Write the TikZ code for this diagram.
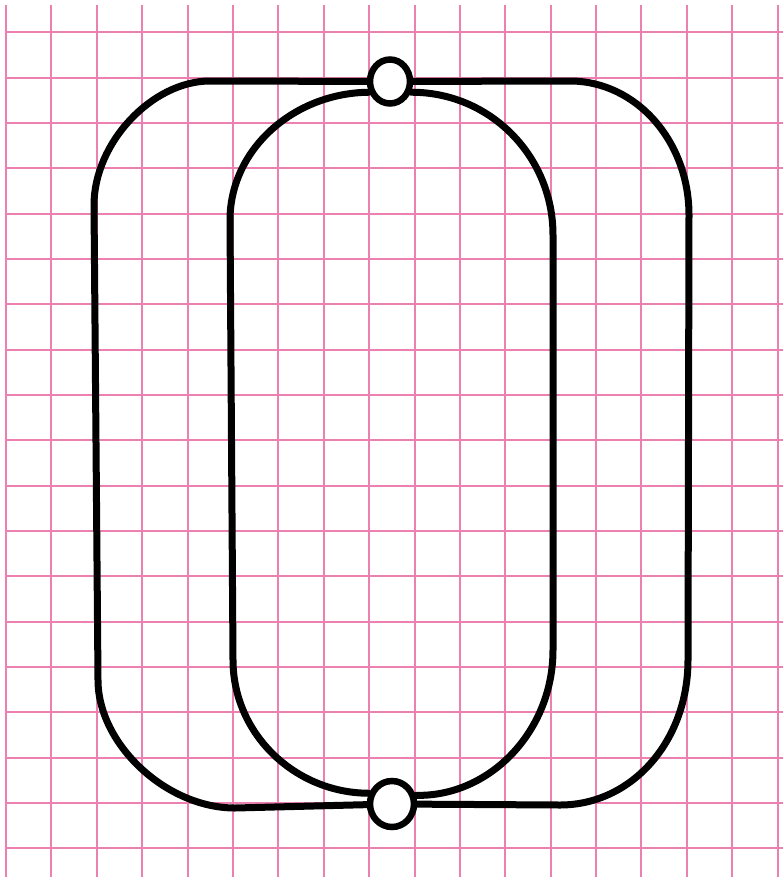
\documentclass[tikz,border=0pt]{standalone}
\usetikzlibrary{shapes.geometric}
\definecolor{gridpink}{RGB}{236,128,176}
\pgfdeclarelayer{bg}
\pgfdeclarelayer{wires}
\pgfsetlayers{bg,wires,main}
\begin{document}
\begin{tikzpicture}[x=1pt,y=-1pt,
  wire/.style={line width=7pt, line cap=round, line join=round},
  junction/.style={ellipse, draw, line width=6.5pt, fill=white, inner sep=0pt},
  gridline/.style={gridpink, line width=2pt}]
\useasboundingbox (0,0) rectangle (783,879);
\node[junction, minimum width=40pt, minimum height=44pt] (t) at (390,81.5) {};
\node[junction, minimum width=44pt, minimum height=46pt] (b) at (392,804) {};
\begin{pgfonlayer}{bg}
\fill[white] (0,0) rectangle (783,879);
\foreach \i in {0,...,17} {\pgfmathsetmacro\xx{round(6+45.39*\i)}
  \draw[gridline] (\xx,5) -- (\xx,877);}
\foreach \j in {0,...,18} {\pgfmathsetmacro\yy{round(32.3+45.33*\j)}
  \draw[gridline] (5,\yy) -- (783,\yy);}
\end{pgfonlayer}
\begin{pgfonlayer}{wires}
% outer left loop
\draw[wire] (t.center) -- (210,81) .. controls (152,81) and (94,143) .. (94,205)
  -- (98,680) .. controls (98,744) and (166,808) .. (235,808) -- (b.center);
% outer right loop
\draw[wire] (t.center) -- (570,81) .. controls (636,81) and (689,141) .. (689,215)
  -- (688,660) .. controls (688,741) and (632,805) .. (560,805) -- (b.center);
% inner left loop
\draw[wire] (t.207) .. controls (293,93) and (230,150) .. (230,220)
  -- (233,660) .. controls (233,733) and (294,793) .. (b.155);
% inner right loop
\draw[wire] (t.333) .. controls (490,92) and (553,156) .. (553,235)
  -- (553,650) .. controls (553,731) and (490,797) .. (b.20);
\end{pgfonlayer}
\end{tikzpicture}
\end{document}
